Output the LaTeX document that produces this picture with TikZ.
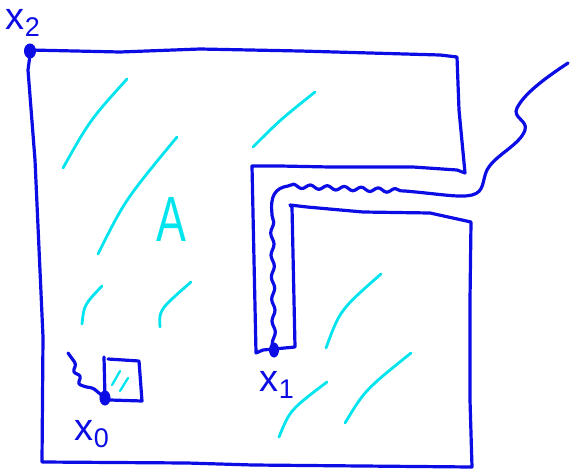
\documentclass[tikz,border=0pt]{standalone}
\usepackage{fontspec}
\setmainfont{Liberation Sans}
\usetikzlibrary{shapes.geometric,decorations.pathmorphing}
\definecolor{pen}{RGB}{12,12,228}
\definecolor{hatch}{RGB}{0,228,238}
\tikzset{
  penline/.style={draw=pen, line width=3.2pt, line cap=round, line join=round},
  hatchline/.style={draw=hatch, line width=2.8pt, line cap=round},
  ptdot/.style={ellipse, fill=pen, draw=pen, line width=1pt, inner sep=0pt, minimum width=11pt, minimum height=14pt},
  lbl/.style={text=pen, inner sep=0pt, font=\fontsize{38}{38}\selectfont},
}
\newcommand{\subdig}[1]{\raisebox{-0.2em}{\fontsize{27}{27}\selectfont #1}}
\begin{document}
\begin{tikzpicture}[x=1pt,y=-1pt]
\useasboundingbox (0,0) rectangle (570,471);
% region outline
\draw[penline] (30,50) -- (120,52) -- (200,49) -- (300,51) -- (440,55) -- (457,57)
  -- (459,110) -- (465,173) -- (457,170) -- (413,167) -- (330,167) -- (280,166) -- (252,166)
  -- (254,260) -- (256,353) -- (263,350) -- (274,349) -- (295,347)
  -- (292,207) -- (290,205) -- (307,207) -- (363,212) -- (430,213) -- (471,222)
  -- (470,300) -- (470,400) -- (472,467) -- (253,465) -- (187,463) -- (42,462)
  -- (43,337) -- (35,160) -- (28,70) -- (30,55);
% hatching
\draw[hatchline] (63,168) .. controls (90,120) .. (127,79);
\draw[hatchline] (98,254) .. controls (125,200) .. (177,137);
\draw[hatchline] (82,324) .. controls (84,305) .. (102,286);
\draw[hatchline] (160,327) .. controls (159,310) .. (191,282);
\draw[hatchline] (253,147) .. controls (280,120) .. (315,92);
\draw[hatchline] (326,348) .. controls (340,310) .. (381,274);
\draw[hatchline] (279,437) .. controls (290,410) .. (327,382);
\draw[hatchline] (345,423) .. controls (365,390) .. (411,353);
\draw[hatchline, line width=2.3pt] (112,385) -- (120,371);
\draw[hatchline, line width=2.3pt] (120,391) -- (128,378);
\node[text=hatch, inner sep=0pt, font=\fontsize{64}{64}\selectfont, xscale=0.7] (A) at (171,219) {A};
% points
\node[ptdot] (X2) at (30,51) {};
\node[ptdot, minimum width=10pt] (X0) at (105,398) {};
\node[ptdot, minimum width=9pt] (X1) at (274,350) {};
\node[lbl] (L2) at (23,23) {x\subdig{2}};
\node[lbl] (L0) at (92,434) {x\subdig{0}};
\node[lbl] (L1) at (277,385) {x\subdig{1}};
% small square at x0
\draw[penline] (104,357) -- (X0.center);
\draw[penline] (108,359) -- (139,361) -- (142,401) -- (110,400);
% wiggly path to x0
\coordinate (W0) at (68,353);
\draw[penline, rounded corners=2.5pt] (W0) -- (76,364) -- (73,372) -- (81,376) -- (78,384) -- (86,387) -- (93,388) -- (X0.center);
% wiggly path from x1
\coordinate (W1) at (568,63);
\draw[penline] (X1.center) decorate[decoration={snake,amplitude=1.6pt,segment length=22pt}] { -- (272,214) }
  .. controls (270,196) and (275,188) .. (288,186)
  decorate[decoration={snake,amplitude=2pt,segment length=17pt}] { -- (405,191) }
  .. controls (440,194) and (460,198) .. (472,195)
  .. controls (485,192) and (482,180) .. (487,170)
  .. controls (495,155) and (520,145) .. (525,130)
  .. controls (528,120) and (512,118) .. (517,108)
  .. controls (525,92) and (550,75) .. (W1);
\end{tikzpicture}
\end{document}
